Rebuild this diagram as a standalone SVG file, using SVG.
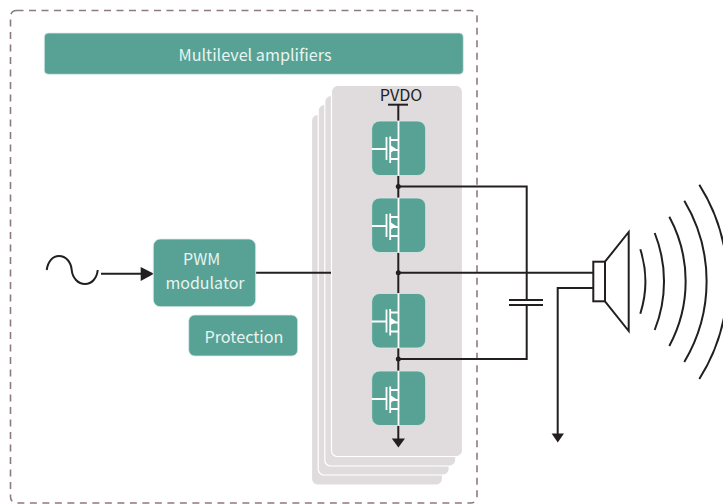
<svg xmlns="http://www.w3.org/2000/svg" xmlns:xlink="http://www.w3.org/1999/xlink" width="723" height="504" viewBox="0 0 723 504">
<style>
.box{fill:#57a294;stroke:#d9ebe7;stroke-width:.8}
.panel{fill:#e0dcdd;stroke:#fff;stroke-width:1.2}
.lbl{font-family:"Noto Sans CJK SC","Source Sans Pro","Noto Sans",sans-serif;font-size:16.200px;fill:#e8f4f1;text-anchor:middle}
.w{fill:none;stroke:#231f20;stroke-width:2}
.t{fill:none;stroke:#fff;stroke-width:1.8}
.k{fill:#231f20}
</style>
<defs>
<g id="fet">
<rect class="box" x="0" y="0" width="54" height="54.500" rx="8"/>
<path class="t" d="M26.800 0V54.500M26.800 19H18.500M0 28H14.800M14.800 16V39M18.500 15.500V42M18.500 29H26.800M18.500 38H26.800"/>
<path fill="#fff" d="M18.500 24L24.500 28L18.500 32Z"/>
</g>
</defs>
<rect id="frame" x="10.500" y="10.500" width="466.500" height="492.500" rx="6" fill="none" stroke="#8c7b80" stroke-width="1.6" stroke-dasharray="7 5.500"/>
<g id="panels">
<rect class="panel" x="311.500" y="114.500" width="131" height="370.500" rx="6"/>
<rect class="panel" x="318.200" y="104.500" width="131" height="370.500" rx="6"/>
<rect class="panel" x="324.800" y="95.500" width="131" height="370.500" rx="6"/>
<rect class="panel" x="331.500" y="85.500" width="131" height="371" rx="6"/>
</g>
<g id="connectors">
<path class="w" d="M398.300 104.700V442"/>
<path class="w" d="M388 104.700H408"/>
<path class="w" d="M398.300 186.500H526.700V299M526.700 305.500V359H398.300"/>
<path class="w" d="M509 300H543M509 305H543"/>
<path class="w" d="M398.300 272.700H593.300"/>
<path class="w" d="M255.700 272.700H331"/>
<path class="w" d="M593.300 288H557.700V434"/>
<path class="w" d="M101 273.700H142"/>
<path class="k" d="M154 273.700L140.700 267V281Z"/>
<path class="k" d="M391.800 438.500H405L398.400 447.500Z"/>
<path class="k" d="M551.600 433.500H564L557.800 442.500Z"/>
<circle class="k" cx="398.300" cy="186.500" r="2.500"/>
<circle class="k" cx="398.300" cy="272.700" r="2.500"/>
<circle class="k" cx="398.300" cy="359" r="2.500"/>
</g>
<g id="bar"><rect class="box" x="44.300" y="33" width="419" height="41.300" rx="4"/><text class="lbl" x="255" y="61">Multilevel amplifiers</text></g>
<g id="pvdo"><text x="401" y="101" font-family="Noto Sans CJK SC,Noto Sans,sans-serif" font-size="16.200" fill="#231f20" text-anchor="middle">PVDO</text></g>
<g id="fet1"><use xlink:href="#fet" x="371.700" y="121"/></g>
<g id="fet2"><use xlink:href="#fet" x="371.700" y="198"/></g>
<g id="fet3"><use xlink:href="#fet" x="371.700" y="293.500"/></g>
<g id="fet4"><use xlink:href="#fet" x="371.700" y="371"/></g>
<g id="pwm"><rect class="box" x="153.300" y="239" width="102.400" height="67.700" rx="7"/><text class="lbl" style="font-size:16px" x="201.700" y="265.300">PWM</text><text class="lbl" style="font-size:16px" x="205" y="288.800">modulator</text></g>
<g id="protection"><rect class="box" x="188.700" y="315" width="109" height="41" rx="6"/><text class="lbl" x="244" y="342.700">Protection</text></g>
<g id="source"><path class="w" d="M46.700 270C48 261 53 256 59 256C66 256 71 262 71.700 270C72.500 278 78 284 85 284C92 284 97 278 97.700 270"/></g>
<g id="speaker" fill="none" stroke="#231f20" stroke-width="2">
<rect x="593.300" y="261.700" width="11.700" height="39.600" fill="#fff"/>
<path d="M605 261.700L628.700 232V331L605 301.300"/>
<path d="M640.300 249.300A106 106 0 0 1 640.300 313.700"/>
<path d="M654.700 233A131 131 0 0 1 654.700 330"/>
<path d="M669.300 216.700A136 136 0 0 1 669.300 346"/>
<path d="M684.300 200.700A157 157 0 0 1 684.300 362"/>
<path d="M699.300 184.700A182 182 0 0 1 699.300 379"/>
</g>
</svg>
